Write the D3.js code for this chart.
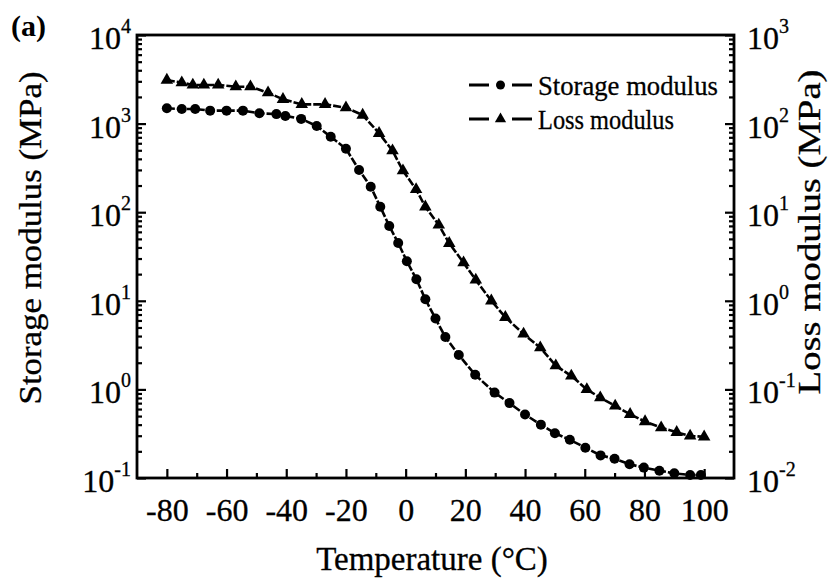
<!DOCTYPE html>
<html><head><meta charset="utf-8">
<script src="https://cdn.jsdelivr.net/npm/d3@7"></script>
<style>body{margin:0;background:#fff} svg text{font-family:"Liberation Serif","Times New Roman",serif;fill:#000}</style>
</head><body><svg id="c" width="837" height="579"></svg>
<script>
// ---- data ----
const storageT = [-80,-75,-70.5,-65.5,-60,-54.5,-49,-43.3,-40.3,-35,-29.8,-25.1,-20,-15.6,-11.7,-8.5,-5.5,-2.5,0.4,3.6,6.6,10,13.3,17.8,23.3,29.8,34.8,40,45.3,50,55,60.2,65.3,70,75,79.8,85,90,95.3,98.9];
const storageVals = [1490,1460,1460,1400,1400,1400,1310,1280,1220,1130,940,710,520,300,194,115,70,45,28,17.5,10.4,6.3,3.9,2.44,1.46,0.92,0.70,0.52,0.40,0.32,0.27,0.22,0.18,0.165,0.143,0.131,0.121,0.113,0.108,0.108];
const lossT = [-80,-75,-71.3,-67.6,-62.8,-56.9,-52,-46.1,-41.1,-34.8,-27,-20,-14.4,-8.9,-4.4,-0.9,3.5,6.6,11.1,14.6,19.4,23.5,28.7,33.4,39.5,45.1,50.3,55.5,60.7,65.2,70.2,75.2,80.2,85.6,90.8,95.3,100];
const lossVals = [310,290,273,273,273,261,261,223,188,165,165,151,125,77.8,49.4,29.4,18.1,11.5,7.18,4.46,2.69,1.72,1.0,0.652,0.422,0.296,0.185,0.142,0.100,0.0807,0.0650,0.0524,0.0433,0.0370,0.0328,0.0298,0.0292];
const xTicks = [-80,-60,-40,-20,0,20,40,60,80,100];
const xMinorTicks = [-70,-50,-30,-10,10,30,50,70,90];
const leftExps = [-1,0,1,2,3,4];
const rightExps = [-2,-1,0,1,2,3];
const seriesNames = ["Storage modulus","Loss modulus"];
const xTitle = "Temperature (°C)";
const yLeftTitle = "Storage modulus (MPa)";
const yRightTitle = "Loss modulus (MPa)";
const panelLabel = "(a)";

// ---- layout ----
const L = 137, T = 35, R = 734, B = 478;
const svg = d3.select("#c");
const x = d3.scaleLinear().domain([-90,110]).range([L,R]);
const yL = d3.scaleLog().domain([0.1,1e4]).range([B,T]);
const yR = d3.scaleLog().domain([0.01,1e3]).range([B,T]);

function minorLog(exps){
  const out=[];
  for(let i=0;i<exps.length-1;i++){const b=Math.pow(10,exps[i]);for(let k=2;k<=9;k++)out.push(k*b);}
  return out;
}
const decL = leftExps.map(e=>Math.pow(10,e));
const decR = rightExps.map(e=>Math.pow(10,e));

// x axis
const gx = svg.append("g").attr("transform",`translate(0,${B})`);
gx.call(d3.axisBottom(x).tickValues(xTicks).tickSizeInner(-9).tickSizeOuter(0).tickPadding(20).tickFormat(d=>d));
gx.append("g").call(d3.axisBottom(x).tickValues(xMinorTicks).tickSizeInner(-5).tickSizeOuter(0).tickFormat(""));
// left axis
const gl = svg.append("g").attr("transform",`translate(${L},0)`);
gl.call(d3.axisLeft(yL).tickValues(decL).tickSizeInner(-9).tickSizeOuter(0).tickPadding(6).tickFormat(""));
gl.append("g").call(d3.axisLeft(yL).tickValues(minorLog(leftExps)).tickSizeInner(-5).tickSizeOuter(0).tickFormat(""));
// right axis
const gr = svg.append("g").attr("transform",`translate(${R},0)`);
gr.call(d3.axisRight(yR).tickValues(decR).tickSizeInner(-9).tickSizeOuter(0).tickPadding(13).tickFormat(""));
gr.append("g").call(d3.axisRight(yR).tickValues(minorLog(rightExps)).tickSizeInner(-5).tickSizeOuter(0).tickFormat(""));

svg.selectAll(".domain").remove();
svg.selectAll(".tick line").attr("stroke","#000").attr("stroke-width",2.2);
gx.selectAll(".tick text").attr("font-size",32).attr("fill","#000").attr("stroke","#000").attr("stroke-width",0.3);

function supLabel(sel, anchor){
  sel.selectAll(".tick").filter(function(){return this.parentNode===sel.node();}).each(function(d){
    const t = d3.select(this).select("text").text(null).attr("text-anchor",anchor)
      .attr("font-size",32).attr("fill","#000").attr("dy","0.42em").attr("stroke","#000").attr("stroke-width",0.3);
    const e = Math.round(Math.log10(d));
    t.append("tspan").text("10");
    t.append("tspan").attr("font-size",20).attr("dy","-0.8em").text(e<0?"-"+(-e):String(e));
  });
}
supLabel(gl, "end");
supLabel(gr, "start");

// frame
svg.append("rect").attr("x",L).attr("y",T).attr("width",R-L).attr("height",B-T)
  .attr("fill","none").attr("stroke","#000").attr("stroke-width",2.8);

// series
const storage = storageT.map((t,i)=>({t,v:storageVals[i]}));
const loss = lossT.map((t,i)=>({t,v:lossVals[i]}));
const lineS = d3.line().x(d=>x(d.t)).y(d=>yL(d.v));
const lineL = d3.line().x(d=>x(d.t)).y(d=>yR(d.v));
svg.append("path").attr("d",lineS(storage)).attr("fill","none").attr("stroke","#000").attr("stroke-width",2.6).attr("stroke-dasharray","8,2");
svg.append("path").attr("d",lineL(loss)).attr("fill","none").attr("stroke","#000").attr("stroke-width",2.6).attr("stroke-dasharray","8,2");
svg.append("g").selectAll("circle").data(storage).join("circle")
  .attr("cx",d=>x(d.t)).attr("cy",d=>yL(d.v)).attr("r",5).attr("fill","#000");
const tri = d3.symbol().type(d3.symbolTriangle).size(68);
svg.append("g").selectAll("path").data(loss).join("path")
  .attr("d",tri).attr("transform",d=>`translate(${x(d.t)},${yR(d.v)})`).attr("fill","#000");

// legend
const lg = svg.append("g");
[0,1].forEach(i=>{
  const yy = 85 + i*34;
  lg.append("line").attr("x1",469).attr("x2",532).attr("y1",yy).attr("y2",yy)
    .attr("stroke","#000").attr("stroke-width",3).attr("stroke-dasharray","20,23,20");
  if(i===0) lg.append("circle").attr("cx",500.5).attr("cy",yy).attr("r",4.5).attr("fill","#000");
  else lg.append("path").attr("d",d3.symbol().type(d3.symbolTriangle).size(55)).attr("transform",`translate(500.5,${yy})`).attr("fill","#000");
  lg.append("text").attr("x",538).attr("y",yy+10).attr("font-size",28).attr("stroke","#000").attr("stroke-width",0.3)
    .attr("textLength", i===0?180:136).attr("lengthAdjust","spacingAndGlyphs").text(seriesNames[i]);
});

// titles
svg.append("text").attr("x",432).attr("y",570).attr("text-anchor","middle").attr("font-size",33).attr("stroke","#000").attr("stroke-width",0.3).text(xTitle);
svg.append("text").attr("transform","translate(41,238) rotate(-90)").attr("text-anchor","middle").attr("font-size",32)
  .attr("stroke","#000").attr("stroke-width",0.3).attr("textLength",333).attr("lengthAdjust","spacingAndGlyphs").text(yLeftTitle);
svg.append("text").attr("transform","translate(820,232) rotate(-90)").attr("text-anchor","middle").attr("font-size",32)
  .attr("stroke","#000").attr("stroke-width",0.3).attr("textLength",325).attr("lengthAdjust","spacingAndGlyphs").text(yRightTitle);
svg.append("text").attr("x",11).attr("y",36).attr("font-size",30).attr("font-weight","bold").text(panelLabel);
</script></body></html>
